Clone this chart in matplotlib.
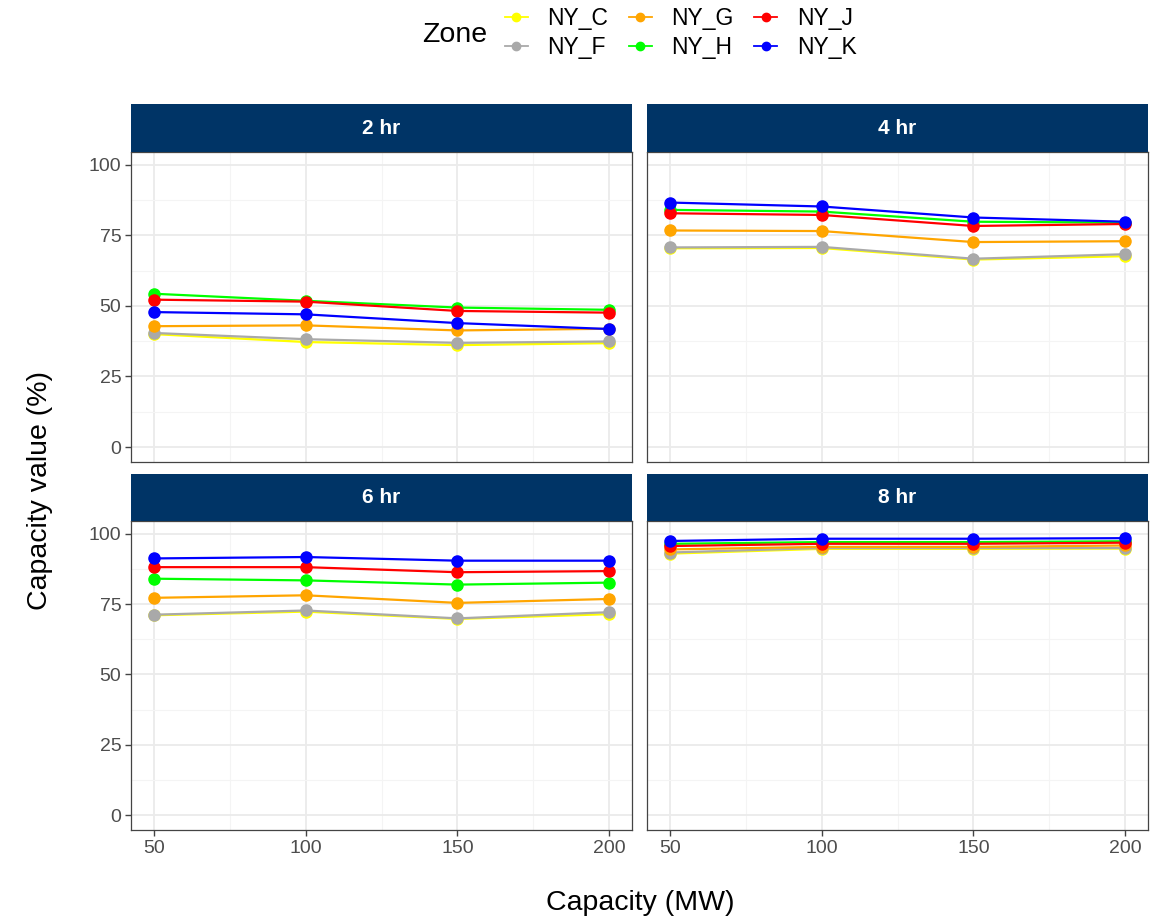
import matplotlib.pyplot as plt
import numpy as np
from matplotlib.ticker import MultipleLocator
from matplotlib.lines import Line2D

plt.rcParams['font.family'] = ['Liberation Sans', 'DejaVu Sans']

capacity = [50, 100, 150, 200]
durations = ["2 hr", "4 hr", "6 hr", "8 hr"]
zones = ["NY_C", "NY_F", "NY_G", "NY_H", "NY_J", "NY_K"]
zone_colors = ["#FFFF00", "#A9A9A9", "#FFA500", "#00FF00", "#FF0000", "#0000FF"]

# capacity value (%) per duration, per zone
cv_2hr = {
    "NY_C": [40.0, 37.2, 36.1, 36.8],
    "NY_F": [40.4, 38.2, 36.9, 37.4],
    "NY_G": [42.8, 43.1, 41.3, 41.9],
    "NY_H": [54.3, 51.8, 49.4, 48.6],
    "NY_J": [52.2, 51.5, 48.2, 47.6],
    "NY_K": [47.8, 47.0, 43.9, 41.8],
}
cv_4hr = {
    "NY_C": [70.4, 70.5, 66.4, 67.6],
    "NY_F": [70.7, 70.9, 66.7, 68.3],
    "NY_G": [76.7, 76.5, 72.6, 72.9],
    "NY_H": [84.0, 83.4, 79.8, 79.5],
    "NY_J": [82.8, 82.2, 78.3, 79.0],
    "NY_K": [86.6, 85.2, 81.3, 79.8],
}
cv_6hr = {
    "NY_C": [71.0, 72.3, 69.7, 71.4],
    "NY_F": [71.2, 72.7, 69.9, 72.1],
    "NY_G": [77.2, 78.1, 75.4, 76.8],
    "NY_H": [84.0, 83.4, 81.9, 82.6],
    "NY_J": [88.1, 88.1, 86.3, 86.7],
    "NY_K": [91.2, 91.7, 90.4, 90.4],
}
cv_8hr = {
    "NY_C": [92.9, 94.6, 94.6, 94.7],
    "NY_F": [93.3, 94.9, 94.9, 94.9],
    "NY_G": [94.4, 95.3, 95.3, 95.8],
    "NY_H": [96.4, 97.0, 97.0, 97.3],
    "NY_J": [95.6, 96.4, 96.4, 96.8],
    "NY_K": [97.4, 98.2, 98.2, 98.4],
}
all_data = [cv_2hr, cv_4hr, cv_6hr, cv_8hr]

W, H = 1157, 919
fig = plt.figure(figsize=(W / 100, H / 100), dpi=100)

strip_color = "#003466"
grid_major = "#EBEBEB"
grid_minor = "#F4F4F4"
text_gray = "#4D4D4D"

# panel pixel boxes (left, top, right, bottom)
cols = [(131, 632), (647, 1148)]
rows = [(104, 152, 462), (474, 521, 830)]

for idx, dur in enumerate(durations):
    r, c = divmod(idx, 2)
    x0, x1 = cols[c]
    st, pt, pb = rows[r]
    ax = fig.add_axes([x0 / W, 1 - pb / H, (x1 - x0) / W, (pb - pt) / H])
    sax = fig.add_axes([x0 / W, 1 - pt / H, (x1 - x0) / W, (pt - st) / H])
    sax.set_facecolor(strip_color)
    sax.set_xticks([])
    sax.set_yticks([])
    for s in sax.spines.values():
        s.set_visible(False)
    sax.text(0.5, 0.5, dur, color="white", fontsize=15, fontweight="bold",
             ha="center", va="center", transform=sax.transAxes)

    data = all_data[idx]
    for z, col in zip(zones, zone_colors):
        ax.plot(capacity, data[z], color=col, lw=1.6, marker="o", ms=8,
                zorder=3, label=z)

    ax.set_xlim(42.5, 207.5)
    ax.set_ylim(-5.3, 104.5)
    ax.xaxis.set_minor_locator(MultipleLocator(25))
    ax.yaxis.set_minor_locator(MultipleLocator(12.5))
    ax.set_yticks([0, 25, 50, 75, 100])
    ax.set_xticks([50, 100, 150, 200])
    ax.grid(which="major", color=grid_major, lw=1.3, zorder=0)
    ax.grid(which="minor", color=grid_minor, lw=0.8, zorder=0)
    ax.set_axisbelow(True)
    for s in ax.spines.values():
        s.set_color("#444444")
        s.set_linewidth(0.9)
    ax.tick_params(which="major", length=4, width=1, color="#444444",
                   labelsize=14, labelcolor=text_gray, pad=3)
    ax.tick_params(which="minor", length=0)
    if c == 1:
        ax.tick_params(axis="y", labelleft=False, length=0)
    if r == 0:
        ax.tick_params(axis="x", labelbottom=False, length=0)

fig.text(40 / W, 1 - 491 / H, "Capacity value (%)", rotation=90, fontsize=20.5,
         ha="center", va="center")
fig.text(640 / W, 1 - 903 / H, "Capacity (MW)", fontsize=20.5,
         ha="center", va="center")

fig.text(455 / W, 1 - 35 / H, "Zone", fontsize=20.5, ha="center", va="center")
handles = [Line2D([], [], color=col, lw=1.3, marker="o", ms=6)
           for col in zone_colors]
fig.legend(handles=handles, labels=zones, ncol=3, loc="center left",
           bbox_to_anchor=(505 / W, 1 - 33 / H), frameon=False, fontsize=16.5,
           handlelength=1.0, columnspacing=0.9, handletextpad=0.85,
           labelspacing=0.3, borderpad=0, borderaxespad=0)

fig.savefig("out.png", dpi=100)
